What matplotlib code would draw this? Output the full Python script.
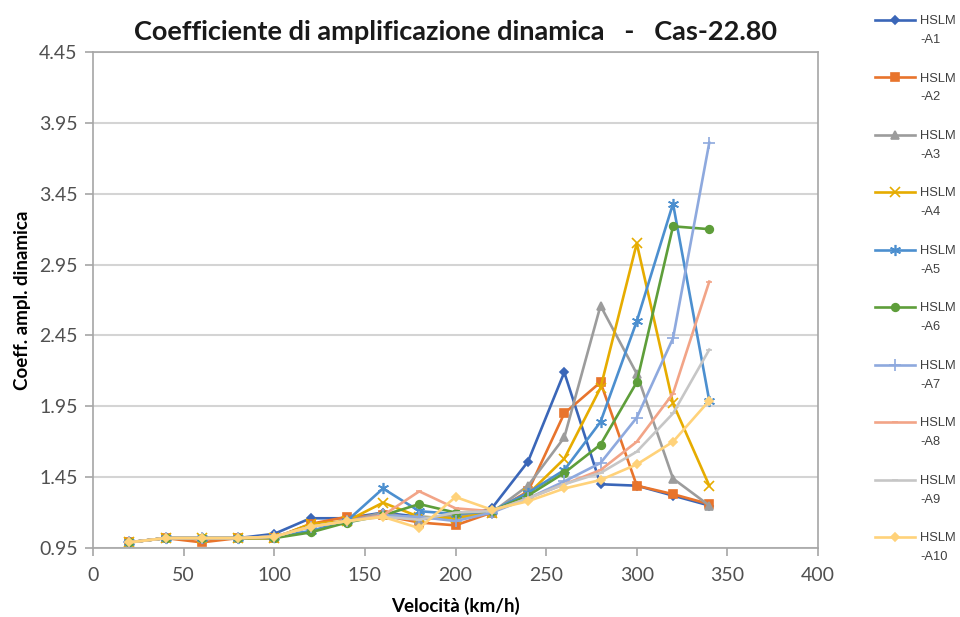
import matplotlib.pyplot as plt
import numpy as np
from matplotlib.legend_handler import HandlerLine2D

# velocità (km/h)
v = [20, 40, 60, 80, 100, 120, 140, 160, 180, 200, 220, 240, 260, 280, 300, 320, 340]

a1 = [0.99, 1.02, 1.02, 1.02, 1.05, 1.16, 1.16, 1.20, 1.17, 1.16, 1.23, 1.56, 2.19, 1.40, 1.39, 1.32, 1.25]
a2 = [0.99, 1.02, 0.99, 1.02, 1.02, 1.12, 1.17, 1.18, 1.13, 1.11, 1.20, 1.35, 1.90, 2.12, 1.39, 1.33, 1.26]
a3 = [0.99, 1.02, 1.02, 1.02, 1.03, 1.10, 1.14, 1.20, 1.15, 1.18, 1.20, 1.39, 1.73, 2.66, 2.18, 1.44, 1.25]
a4 = [0.99, 1.02, 1.02, 1.02, 1.02, 1.12, 1.14, 1.27, 1.17, 1.16, 1.20, 1.33, 1.58, 2.08, 3.10, 1.97, 1.39]
a5 = [0.99, 1.02, 1.02, 1.02, 1.03, 1.07, 1.14, 1.37, 1.21, 1.19, 1.21, 1.34, 1.50, 1.84, 2.55, 3.38, 1.99]
a6 = [0.99, 1.02, 1.02, 1.02, 1.02, 1.06, 1.13, 1.18, 1.26, 1.20, 1.21, 1.32, 1.48, 1.68, 2.12, 3.22, 3.20]
a7 = [0.99, 1.02, 1.02, 1.02, 1.03, 1.10, 1.14, 1.18, 1.17, 1.14, 1.20, 1.30, 1.42, 1.55, 1.87, 2.43, 3.81]
a8 = [0.99, 1.02, 1.02, 1.02, 1.03, 1.10, 1.14, 1.18, 1.35, 1.23, 1.21, 1.30, 1.40, 1.50, 1.70, 2.04, 2.83]
a9 = [0.99, 1.02, 1.02, 1.02, 1.03, 1.10, 1.14, 1.17, 1.15, 1.20, 1.21, 1.30, 1.40, 1.48, 1.63, 1.90, 2.35]
a10 = [0.99, 1.02, 1.02, 1.02, 1.03, 1.10, 1.14, 1.17, 1.09, 1.31, 1.22, 1.28, 1.37, 1.43, 1.54, 1.70, 1.99]

serie = [a1, a2, a3, a4, a5, a6, a7, a8, a9, a10]
nomi = ["HSLM\n-A%d" % i for i in range(1, 11)]
colori = ["#3A66B8", "#E8742C", "#9C9C9C", "#E6AC00", "#4C8FCF",
          "#5E9E3A", "#8EA9DE", "#F2A487", "#C6C6C6", "#FFD27A"]
marker = ["D", "s", "^", "x", (6, 2, 0), "o", "+", "_", "_", "D"]
msize = [4.5, 5.5, 5.5, 6.5, 8, 5.5, 8, 5, 5, 4]


# linea della legenda allineata alla prima riga del testo
class LineaSu(HandlerLine2D):
    def create_artists(self, legend, orig_handle, xdescent, ydescent,
                       width, height, fontsize, trans):
        return super().create_artists(legend, orig_handle, xdescent, ydescent - 15,
                                      width, height, fontsize, trans)


fig = plt.figure(figsize=(9.6, 6.17), dpi=100)
ax = fig.add_axes([0.0969, 0.1118, 0.7552, 0.8039])

linee = []
for s, n, c, m, ms in zip(serie, nomi, colori, marker, msize):
    l, = ax.plot(v, s, color=c, marker=m, markersize=ms, linewidth=1.9, label=n,
                 markeredgewidth=1.2)
    linee.append(l)

ax.set_xlim(0, 400)
ax.set_ylim(0.95, 4.45)
ax.set_xticks(np.arange(0, 401, 50))
ax.set_yticks([0.95, 1.45, 1.95, 2.45, 2.95, 3.45, 3.95, 4.45])
ax.set_yticklabels(["0.95", "1.45", "1.95", "2.45", "2.95", "3.45", "3.95", "4.45"])
ax.grid(axis="y", color="#D4D4D4", linewidth=1.5)
ax.set_axisbelow(True)
for sp in ax.spines.values():
    sp.set_color("#A6A6A6")
    sp.set_linewidth(1.2)
ax.tick_params(colors="#A6A6A6", labelcolor="#505050", labelsize=14, length=6, width=1.2)
ax.tick_params(axis="y", pad=5)
ax.tick_params(axis="x", pad=8)
for t in ax.get_xticklabels() + ax.get_yticklabels():
    t.set_fontfamily("Lato")

ax.set_title("Coefficiente di amplificazione dinamica   -   Cas-22.80",
             fontsize=19.5, fontweight="bold", family="Lato", pad=9, color="#1A1A1A")
ax.set_xlabel("Velocità (km/h)", fontsize=13.5, fontweight="bold", family="Lato", labelpad=9)
ax.set_ylabel("Coeff. ampl. dinamica", fontsize=13.5, fontweight="bold", family="Lato", labelpad=6)

leg = ax.legend(handles=linee, loc="upper left", bbox_to_anchor=(1.072, 1.085), frameon=False,
                prop={"family": "Liberation Sans", "size": 9.3},
                handlelength=3.1, labelspacing=2.07, handletextpad=0.35,
                borderaxespad=0, handler_map={l: LineaSu() for l in linee})
for t in leg.get_texts():
    t.set_linespacing(1.75)
    t.set_color("#404040")

fig.savefig("out.png", dpi=100)
